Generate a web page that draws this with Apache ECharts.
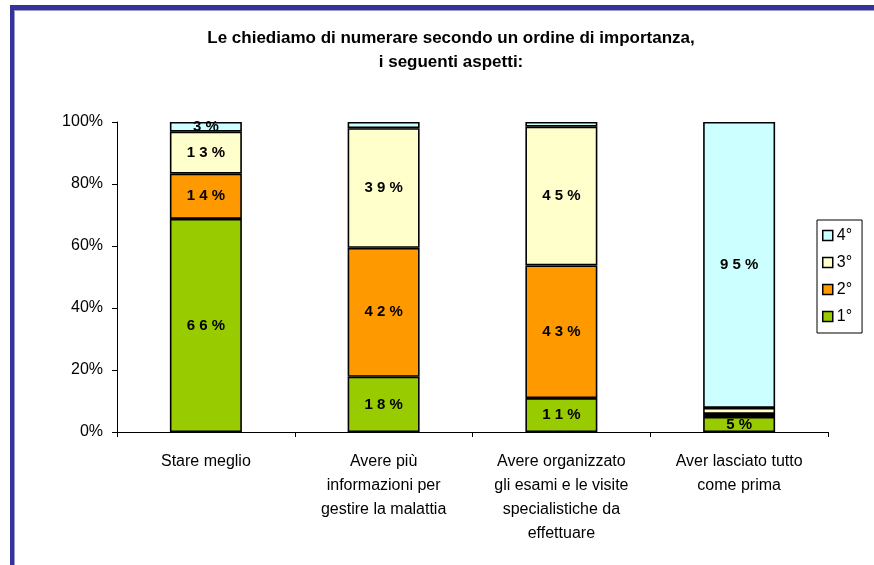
<!DOCTYPE html>
<html>
<head>
<meta charset="utf-8">
<title>Ordine di importanza</title>
<script src="https://cdn.jsdelivr.net/npm/echarts@6/dist/echarts.min.js"></script>
<style>
  html, body { margin: 0; padding: 0; background: #ffffff; }
  #chart { width: 874px; height: 565px; }
</style>
</head>
<body>
<div id="chart"></div>
<script>
// Answers per aspect, in percent of respondents, by rank given
const categories = [
  'Stare meglio',
  'Avere più\ninformazioni per\ngestire la malattia',
  'Avere organizzato\ngli esami e le visite\nspecialistiche da\neffettuare',
  'Aver lasciato tutto\ncome prima'
];
const rankNames = ['1°', '2°', '3°', '4°'];
const rank1 = [66, 18, 11, 5];
const rank2 = [14, 42, 43, 1];
const rank3 = [13, 39, 45, 2];
const rank4 = [3, 2, 1.5, 95];
const yTicks = [0, 20, 40, 60, 80, 100];

const rankValues = [rank1, rank2, rank3, rank4];
const rankColors = ['#99CC00', '#FF9900', '#FFFFCC', '#CCFFFF'];

// each column is drawn as a 100% stack of its own answers
const totals = categories.map((_, i) => rankValues.reduce((s, arr) => s + arr[i], 0));

const spaced = v => String(v).split('').concat('%').join(' ');
const FONT = 'Liberation Sans, Arial, sans-serif';

const series = rankValues.map((arr, k) => ({
  name: rankNames[k],
  type: 'bar',
  stack: 'rank',
  barWidth: 72,
  data: arr.map((v, i) => v / totals[i] * 100),
  itemStyle: { color: rankColors[k], borderColor: '#000000', borderWidth: 1.6 },
  label: {
    show: true,
    position: 'inside',
    color: '#000000',
    fontFamily: FONT,
    fontWeight: 'bold',
    fontSize: 15,
    formatter: p => (arr[p.dataIndex] >= 3 ? spaced(arr[p.dataIndex]) : '')
  },
  emphasis: { disabled: true },
  animation: false
}));

const chart = echarts.init(document.getElementById('chart'), null, { renderer: 'canvas' });
chart.setOption({
  backgroundColor: '#ffffff',
  animation: false,
  title: {
    text: 'Le chiediamo di numerare secondo un ordine di importanza,\ni seguenti aspetti:',
    left: 446,
    top: 21,
    textAlign: 'center',
    textStyle: {
      fontFamily: FONT,
      fontWeight: 'bold',
      fontSize: 17,
      lineHeight: 24,
      color: '#000000'
    }
  },
  legend: {
    data: ['4°', '3°', '2°', '1°'],
    orient: 'vertical',
    left: 817,
    top: 220,
    width: 45,
    padding: [6, 10, 7, 5],
    itemGap: 8,
    itemWidth: 10,
    itemHeight: 10,
    icon: 'rect',
    borderColor: '#000000',
    borderWidth: 1,
    itemStyle: { borderWidth: 1.5, borderColor: '#000000' },
    textStyle: {
      fontFamily: FONT,
      fontSize: 16,
      lineHeight: 19,
      color: '#000000',
      padding: [0, 0, 0, -1]
    },
    selectedMode: false
  },
  grid: { left: 117, right: 46, top: 122, bottom: 133, containLabel: false },
  xAxis: {
    type: 'category',
    data: categories,
    axisLine: { lineStyle: { color: '#000000', width: 1 } },
    axisTick: { show: true, length: 5, lineStyle: { color: '#000000' } },
    axisLabel: {
      interval: 0,
      margin: 18,
      color: '#000000',
      fontFamily: FONT,
      fontSize: 16,
      lineHeight: 24
    }
  },
  yAxis: {
    type: 'value',
    min: yTicks[0],
    max: yTicks[yTicks.length - 1],
    interval: yTicks[1] - yTicks[0],
    axisLine: { show: true, lineStyle: { color: '#000000', width: 1 } },
    axisTick: { show: true, length: 5, lineStyle: { color: '#000000' } },
    splitLine: { show: false },
    axisLabel: {
      margin: 14,
      color: '#000000',
      fontFamily: FONT,
      fontSize: 16,
      formatter: '{value}%'
    }
  },
  graphic: [
    { type: 'rect', shape: { x: 10, y: 5, width: 864, height: 5 }, style: { fill: '#333399' }, z: 10 },
    { type: 'rect', shape: { x: 14, y: 10, width: 860, height: 1 }, style: { fill: '#9999CC' }, z: 10 },
    { type: 'rect', shape: { x: 10, y: 5, width: 4, height: 560 }, style: { fill: '#333399' }, z: 10 },
    { type: 'rect', shape: { x: 14, y: 10, width: 1, height: 555 }, style: { fill: '#9999CC' }, z: 10 }
  ],
  series: series
});
</script>
</body>
</html>
